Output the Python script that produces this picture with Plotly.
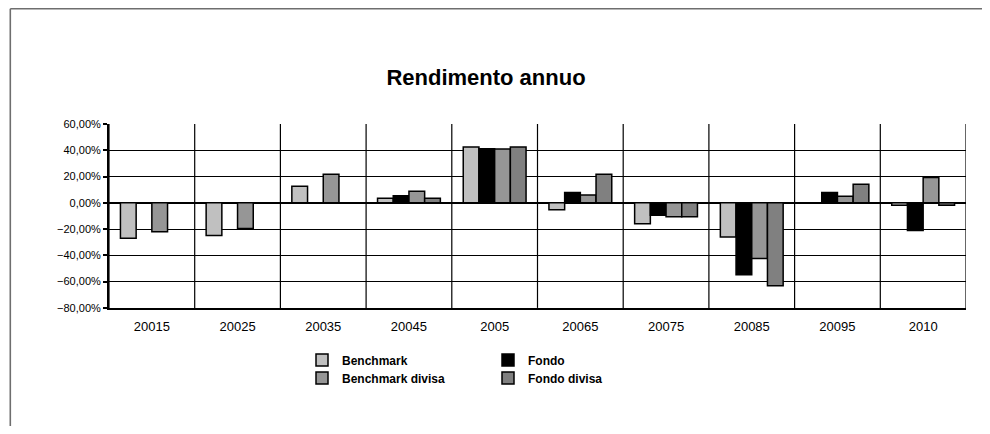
import plotly.graph_objects as go

categories = ["20015", "20025", "20035", "20045", "2005", "20065", "20075", "20085", "20095", "2010"]
benchmark = [-27.0, -24.8, 12.6, 3.5, 42.4, -5.3, -15.9, -26.0, None, -1.8]
fondo = [None, None, None, 5.3, 41.1, 7.8, -9.4, -54.8, 7.8, -21.0]
benchmark_divisa = [-22.0, -19.5, 21.7, 8.8, 40.9, 6.0, -10.6, -42.4, 5.0, 19.2]
fondo_divisa = [None, None, None, 3.5, 42.4, 21.7, -10.6, -63.1, 14.1, -1.8]
y_ticks = [-80, -60, -40, -20, 0, 20, 40, 60]

def pct(vals):
    return [None if v is None else v / 100 for v in vals]

series = [
    ("Benchmark", benchmark, "#C0C0C0", "legend"),
    ("Fondo", fondo, "#000000", "legend"),
    ("Benchmark divisa", benchmark_divisa, "#969696", "legend2"),
    ("Fondo divisa", fondo_divisa, "#808080", "legend2"),
]

# page body has an 8px margin; figure is sized/offset to compensate
W, H = 974, 418
OFF = 8
L, T = 108.7 - OFF, 124 - OFF
R = W + OFF - 965.7
B = H + OFF - 309
PW, PH = W - L - R, H - T - B

fig = go.Figure()
for name, vals, color, lg in series:
    fig.add_trace(go.Bar(
        name=name, x=categories, y=pct(vals),
        marker=dict(color=color, line=dict(color="#000000", width=1.5)),
        legend=lg,
    ))

shapes = []
for k in range(11):
    shapes.append(dict(type="line", xref="x", yref="paper", x0=k - 0.5, x1=k - 0.5,
                       y0=0, y1=1, line=dict(color="#000000", width=1.2), layer="below"))
# outer chart border (page coords: left 10, top 8, extends past right/bottom)
shapes.append(dict(type="line", xref="paper", yref="paper",
                   x0=(10 - 108.7) / PW, x1=(1300 - 108.7) / PW,
                   y0=(309 - 8) / PH, y1=(309 - 8) / PH,
                   line=dict(color="#6e6e6e", width=1.6)))
shapes.append(dict(type="line", xref="paper", yref="paper",
                   x0=(10 - 108.7) / PW, x1=(10 - 108.7) / PW,
                   y0=(309 - 700) / PH, y1=(309 - 8) / PH,
                   line=dict(color="#6e6e6e", width=1.6)))

def cx(px):
    return (px - OFF) / W

def cy(py):
    return 1 - (py - OFF) / H

fig.update_layout(
    width=W, height=H,
    margin=dict(l=L, r=R, t=T, b=B),
    paper_bgcolor="#FFFFFF", plot_bgcolor="#FFFFFF",
    separators=",.",
    barmode="group", bargap=0.267, bargroupgap=0,
    font=dict(family="Arial, Liberation Sans, sans-serif", color="#000000"),
    title=dict(text="<b>Rendimento annuo</b>", x=cx(486), xanchor="center",
               y=cy(77), yanchor="middle",
               font=dict(size=22, family="Arial, Liberation Sans, sans-serif", color="#000000")),
    xaxis=dict(type="category", range=[-0.5, 9.5], showgrid=False,
               showline=True, linecolor="#000000", linewidth=2,
               ticks="", tickfont=dict(size=13), ticklabelstandoff=5),
    yaxis=dict(range=[-0.8, 0.6], tickvals=[v / 100 for v in y_ticks], tickformat=".2%",
               showgrid=True, gridcolor="#000000", gridwidth=1.2,
               zeroline=True, zerolinecolor="#000000", zerolinewidth=1.5,
               showline=True, linecolor="#000000", linewidth=2,
               ticks="outside", ticklen=4, tickcolor="#000000", tickwidth=1.5,
               tickfont=dict(size=11)),
    legend=dict(orientation="h", xref="container", yref="container",
                x=cx(302), xanchor="left", y=cy(360), yanchor="middle",
                entrywidth=141, font=dict(size=12, weight="bold"),
                bgcolor="rgba(0,0,0,0)", itemwidth=30, tracegroupgap=0),
    legend2=dict(orientation="h", xref="container", yref="container",
                 x=cx(302), xanchor="left", y=cy(378), yanchor="middle",
                 entrywidth=141, font=dict(size=12, weight="bold"),
                 bgcolor="rgba(0,0,0,0)", itemwidth=30, tracegroupgap=0),
    shapes=shapes,
    showlegend=True,
)

fig.write_html("out.html")
